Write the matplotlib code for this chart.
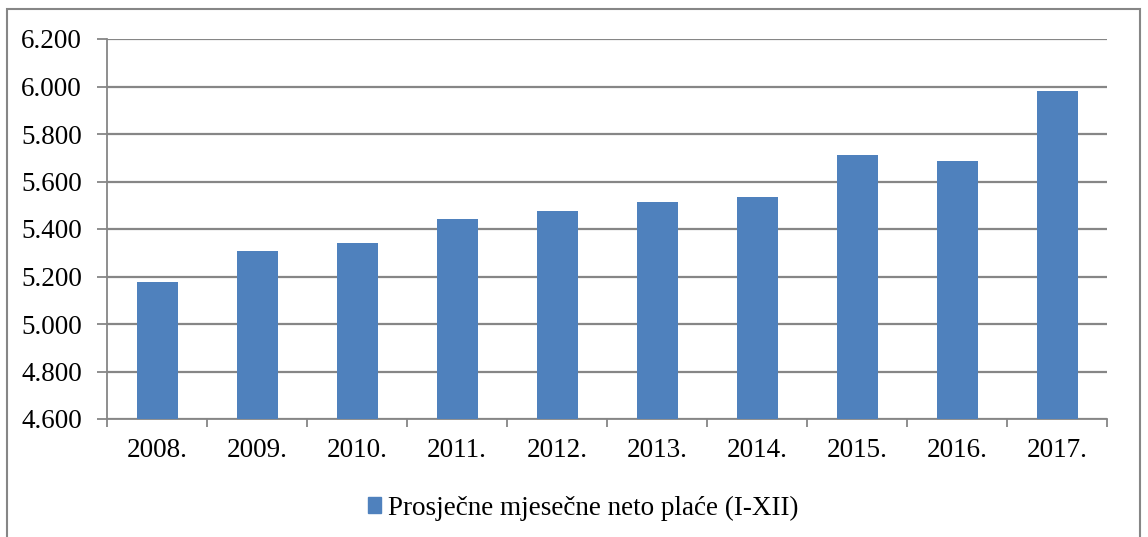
import matplotlib.pyplot as plt
from matplotlib.patches import Rectangle
from matplotlib.ticker import FuncFormatter

# podaci
godine = ["2008.", "2009.", "2010.", "2011.", "2012.",
          "2013.", "2014.", "2015.", "2016.", "2017."]
place = [5176, 5309, 5340, 5442, 5476, 5514, 5534, 5711, 5686, 5982]
y_ticks = [4600, 4800, 5000, 5200, 5400, 5600, 5800, 6000, 6200]
serija = "Prosječne mjesečne neto plaće (I-XII)"

plt.rcParams['font.family'] = ['Liberation Serif', 'DejaVu Serif']
GRID = '#868686'
BAR = '#4F81BD'

fig = plt.figure(figsize=(11.48, 5.37), dpi=100)
ax = fig.add_axes([107 / 1148, 1 - 419 / 537, 1000 / 1148, 380 / 537])

x = list(range(len(godine)))
ax.bar(x, place, width=0.41, color=BAR, zorder=3)
ax.set_xlim(-0.5, len(godine) - 0.5)
ax.set_ylim(4600, 6200)
ax.set_yticks(y_ticks)
ax.yaxis.set_major_formatter(FuncFormatter(lambda v, p: f"{v/1000:.3f}"))
ax.grid(axis='y', color=GRID, linewidth=1.6, zorder=0)

ax.set_xticks(x)
ax.set_xticklabels(godine)
ax.set_xticks([i - 0.5 for i in range(len(godine) + 1)], minor=True)
ax.tick_params(axis='x', which='major', length=0, pad=14, labelsize=19.5)
ax.tick_params(axis='x', which='minor', length=6, width=1.3, color=GRID)
ax.tick_params(axis='y', length=7, width=1.3, color=GRID, pad=11, labelsize=19.5)

for s in ['top', 'right']:
    ax.spines[s].set_visible(False)
for s in ['left', 'bottom']:
    ax.spines[s].set_color(GRID)
    ax.spines[s].set_linewidth(1.3)

# legenda
fig.legend([Rectangle((0, 0), 1, 1, color=BAR)], [serija],
           loc='center', bbox_to_anchor=(583 / 1148, 1 - 508 / 537),
           frameon=False, fontsize=19.5, handlelength=0.5, handleheight=0.5,
           handletextpad=0.25)

# okvir grafikona
fig.patches.append(Rectangle((7 / 1148, -0.05), 1133 / 1148, 1 - 9 / 537 + 0.05,
                             transform=fig.transFigure, fill=False,
                             edgecolor=GRID, linewidth=1.5))

fig.savefig("out.png", dpi=100)
